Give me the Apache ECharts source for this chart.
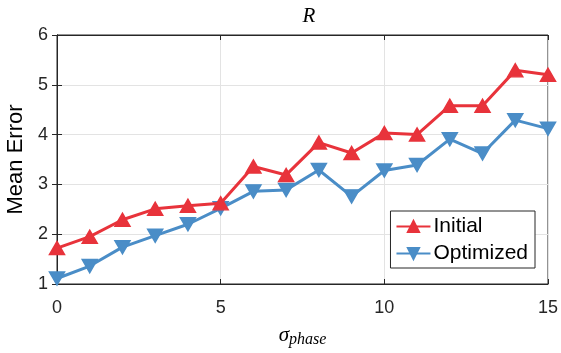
<!DOCTYPE html>
<html><head><meta charset="utf-8">
<script src="https://cdn.jsdelivr.net/npm/echarts@6/dist/echarts.min.js"></script>
<style>html,body{margin:0;padding:0;background:#fff}#c{width:561px;height:353px}</style>
</head><body><div id="c"></div>
<script>
const xValues = [0,1,2,3,4,5,6,7,8,9,10,11,12,13,14,15];
const initial = [1.72,1.95,2.29,2.51,2.57,2.62,3.36,3.19,3.84,3.63,4.03,4.00,4.58,4.58,5.29,5.20];
const optimized = [1.11,1.36,1.74,1.97,2.20,2.52,2.86,2.89,3.29,2.76,3.28,3.39,3.91,3.62,4.29,4.12];
const xTicks = [0,5,10,15];
const yTicks = [1,2,3,4,5,6];

const chart = echarts.init(document.getElementById('c'));
const axisCol = '#262626';
const font = 'Liberation Sans';
chart.setOption({
  animation:false,
  title:{text:'R',left:304,top:1,textAlign:'center',textStyle:{fontFamily:'Liberation Serif',fontStyle:'italic',fontWeight:'normal',fontSize:21,color:'#000'}},
  grid:{left:57,right:13,top:35,bottom:69,show:true,borderColor:axisCol,borderWidth:1,backgroundColor:'#fff',containLabel:false,outerBoundsMode:'none'},
  legend:{right:26,top:211,orient:'vertical',itemWidth:34,itemHeight:14,itemGap:6,padding:[5,7,4,5],
    backgroundColor:'#fff',borderColor:axisCol,borderWidth:1,borderRadius:0,
    textStyle:{fontFamily:font,fontSize:21,color:'#000',padding:[0,0,0,-2]},data:['Initial','Optimized']},
  xAxis:[{type:'value',min:0,max:15,interval:5,
    name:'{s|σ}{sub|phase}',nameLocation:'middle',nameGap:38,
    nameTextStyle:{rich:{s:{fontFamily:'Liberation Serif',fontStyle:'italic',fontSize:21,color:'#000'},sub:{fontFamily:'Liberation Serif',fontStyle:'italic',fontSize:16,color:'#000',padding:[10,0,0,0]}}},
    axisLine:{show:true,lineStyle:{color:axisCol}},axisTick:{inside:true,length:5,lineStyle:{color:axisCol}},
    axisLabel:{fontFamily:font,fontSize:18,color:'#262626',margin:15},
    splitLine:{show:true,lineStyle:{color:'#e3e3e3'}}},
   {type:'value',position:'top',min:0,max:15,interval:5,axisLine:{show:true,lineStyle:{color:axisCol}},
    axisTick:{inside:true,length:5,lineStyle:{color:axisCol}},axisLabel:{show:false},splitLine:{show:false}}],
  yAxis:[{type:'value',min:1,max:6,interval:1,
    name:'Mean Error',nameLocation:'middle',nameGap:25,nameTextStyle:{fontFamily:font,fontSize:22,color:'#000'},
    axisLine:{show:true,lineStyle:{color:axisCol}},axisTick:{inside:true,length:5,lineStyle:{color:axisCol}},
    axisLabel:{fontFamily:font,fontSize:18,color:'#262626',margin:9},
    splitLine:{show:true,lineStyle:{color:'#e3e3e3'}}},
   {type:'value',position:'right',min:1,max:6,interval:1,axisLine:{show:true,lineStyle:{color:axisCol}},
    axisTick:{inside:true,length:5,lineStyle:{color:axisCol}},axisLabel:{show:false},splitLine:{show:false}}],
  series:[
    {name:'Initial',type:'line',data:xValues.map((x,i)=>[x,initial[i]]),symbol:'triangle',symbolSize:[15,13],
     lineStyle:{color:'#e8333b',width:3},itemStyle:{color:'#e8333b',borderColor:'#e8333b',borderWidth:1.5},z:3},
    {name:'Optimized',type:'line',data:xValues.map((x,i)=>[x,optimized[i]]),symbol:'triangle',symbolRotate:180,symbolSize:[15,13],
     lineStyle:{color:'#4a8dc7',width:3},itemStyle:{color:'#4a8dc7',borderColor:'#4a8dc7',borderWidth:1.5},z:2}
  ]
});
</script></body></html>
